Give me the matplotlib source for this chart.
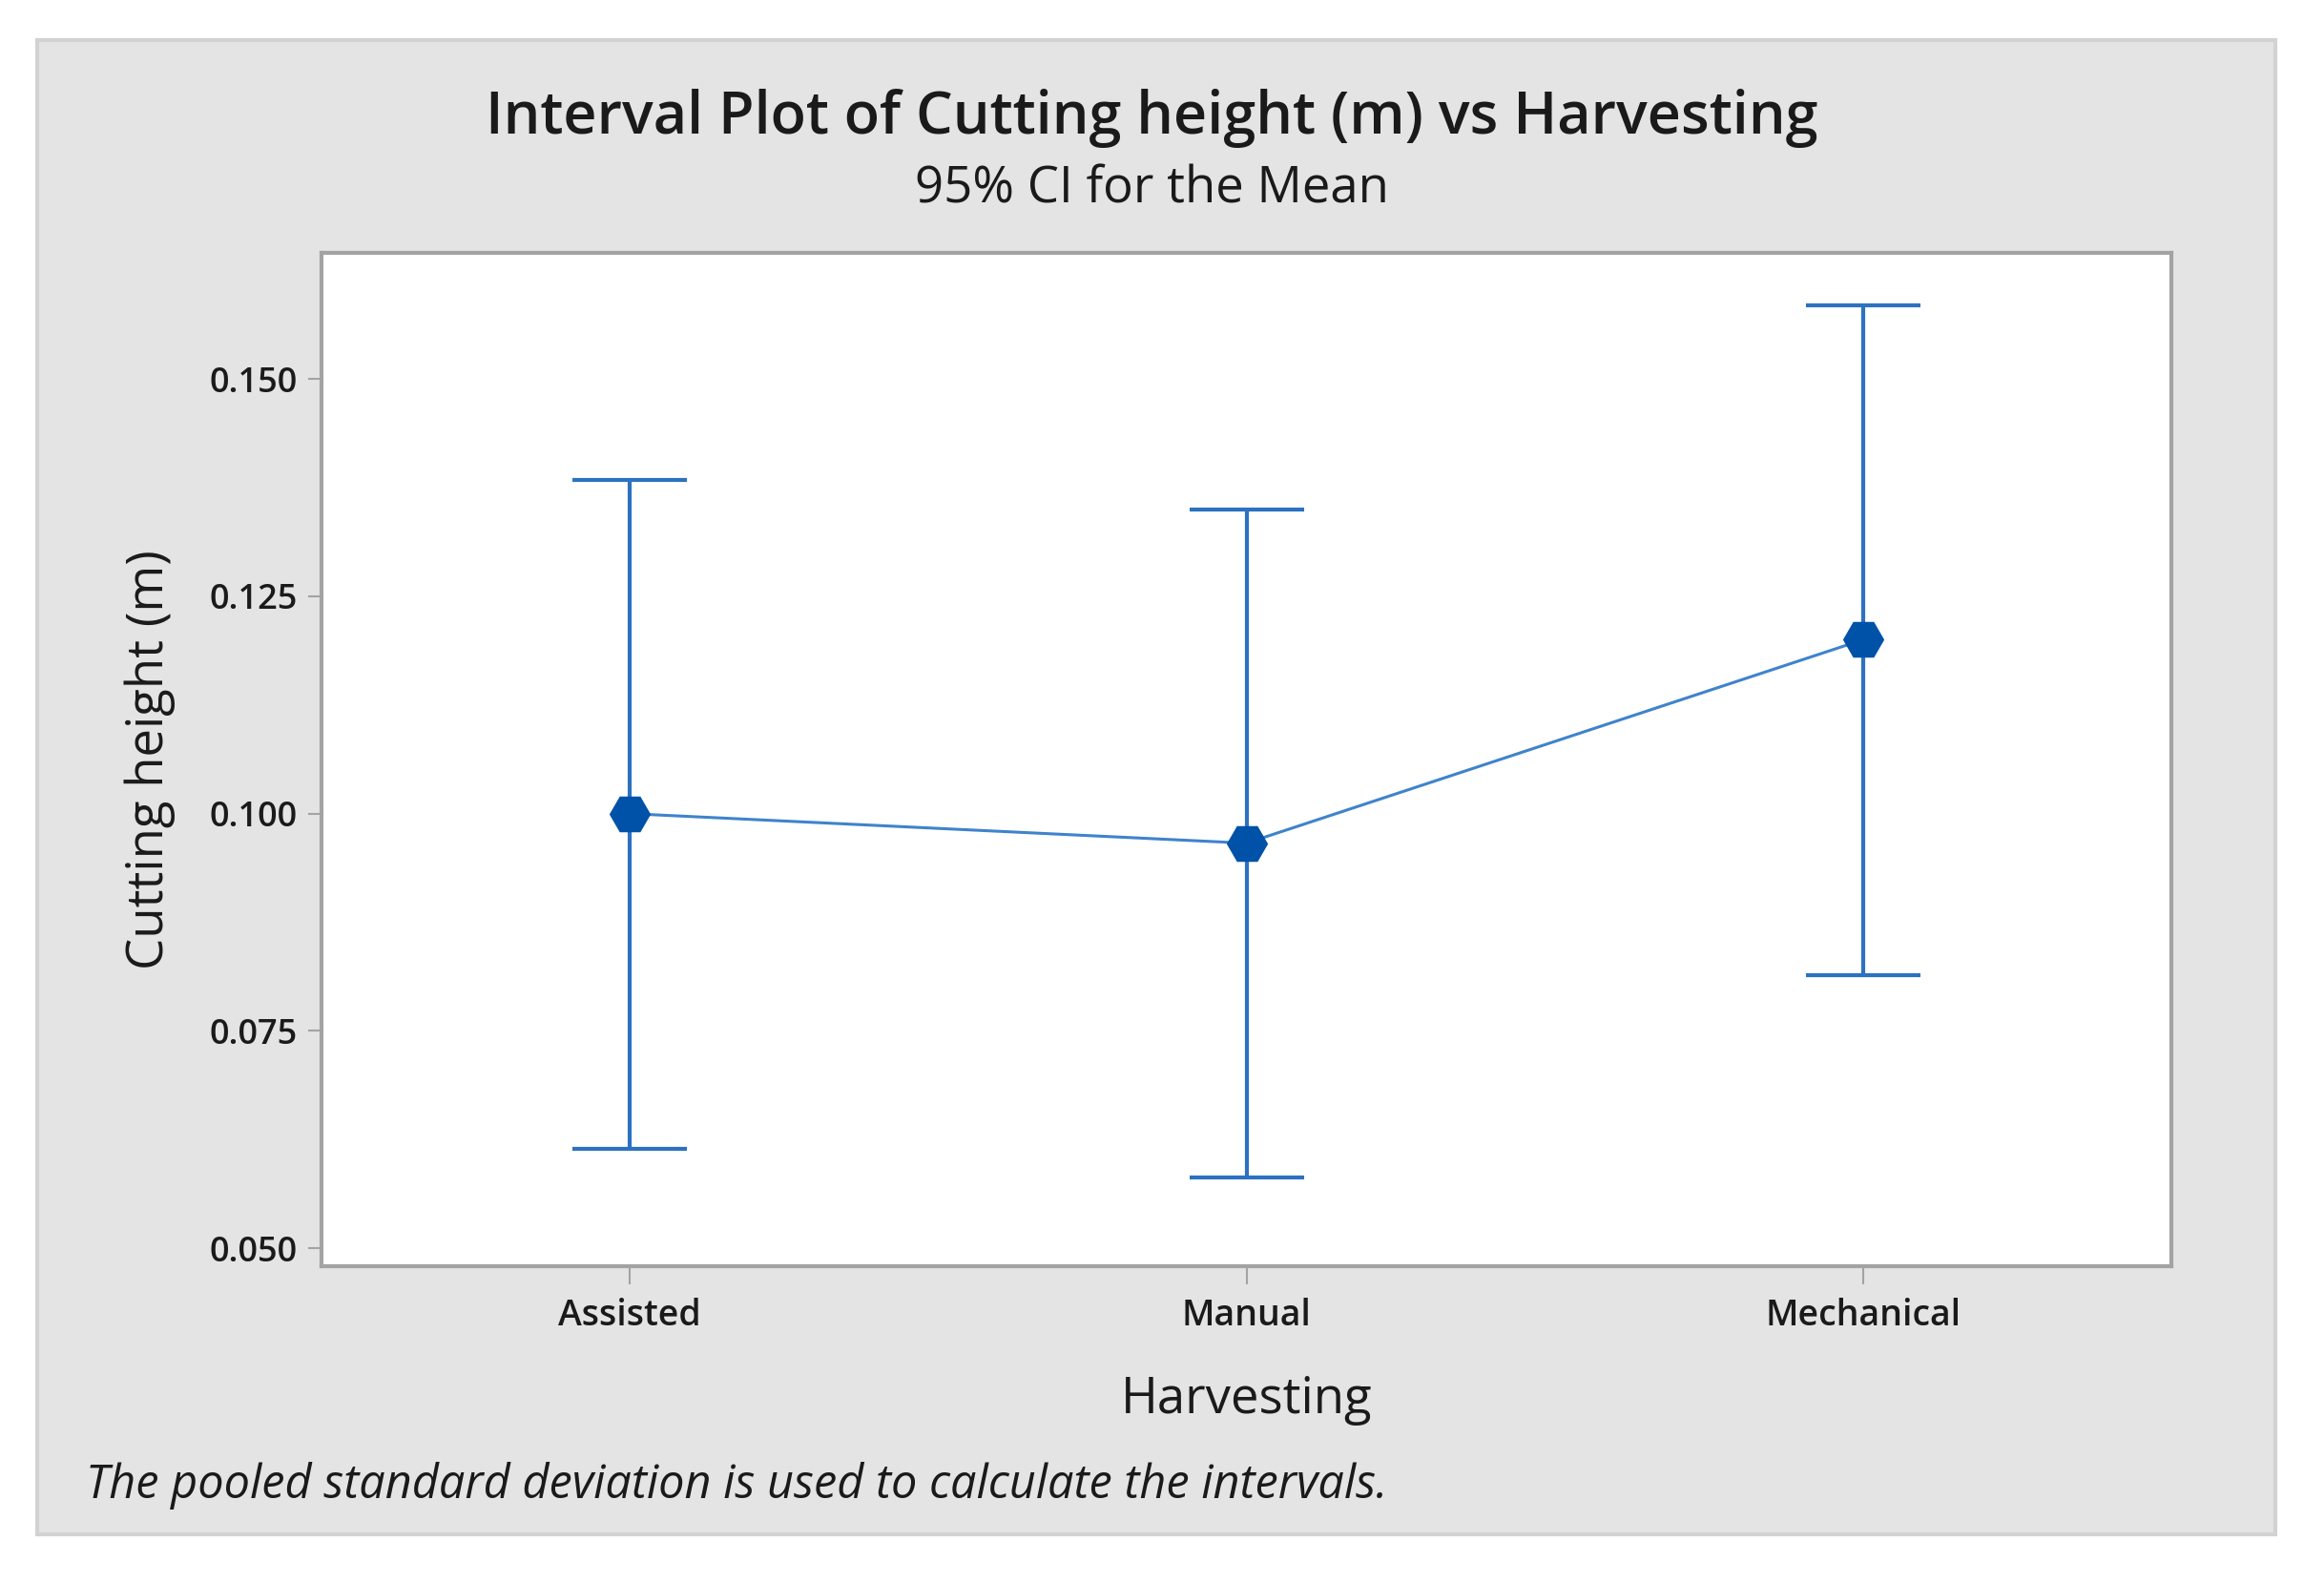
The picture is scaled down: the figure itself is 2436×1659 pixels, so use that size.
import numpy as np
import matplotlib.pyplot as plt
from matplotlib.patches import Rectangle

# values
groups = ["Assisted", "Manual", "Mechanical"]
means = [0.1000, 0.0966, 0.1200]
ci_lower = [0.0614, 0.0582, 0.0814]
ci_upper = [0.1384, 0.1350, 0.1585]
y_ticks = [0.050, 0.075, 0.100, 0.125, 0.150]

W, H = 2436, 1659
fig = plt.figure(figsize=(W / 100, H / 100), dpi=100)
fig.patch.set_facecolor("white")
plt.rcParams["font.family"] = ["Open Sans", "DejaVu Sans"]

# gray Minitab-style panel
fig.patches.append(Rectangle((39 / W, 1 - 1608 / H), 2346 / W, 1566 / H,
                             transform=fig.transFigure, facecolor="#e4e4e4",
                             edgecolor="#d2d2d2", lw=3, zorder=-5))

ax = fig.add_axes([337 / W, 1 - 1327 / H, (2276 - 337) / W, (1327 - 265) / H])
ax.set_zorder(2)
ax.set_facecolor("white")

x = np.arange(len(groups))
m = np.array(means)
err = [m - np.array(ci_lower), np.array(ci_upper) - m]

ax.plot(x, m, color="#3f83cc", lw=2.2, zorder=2)
ax.errorbar(x, m, yerr=err, fmt="none", ecolor="#2c72c0", elinewidth=3,
            capsize=43, capthick=3, zorder=3)
ax.plot(x, m, ls="none", marker="H", ms=30, color="#0052a8", zorder=4)

ax.set_xlim(-0.5, 2.5)
ax.set_ylim(0.04794, 0.1645)
ax.set_xticks(x)
ax.set_xticklabels(groups, fontweight="semibold")
ax.set_yticks(y_ticks)
ax.set_yticklabels([f"{v:.3f}" for v in y_ticks], fontweight="semibold")

for s in ax.spines.values():
    s.set_color("#a3a3a3")
    s.set_linewidth(3)

ax.tick_params(axis="x", length=14, width=1.5, color="#a3a3a3", pad=10,
               labelsize=27, labelcolor="#1a1a1a")
ax.tick_params(axis="y", length=10, width=1.5, color="#a3a3a3", pad=8,
               labelsize=26, labelcolor="#1a1a1a")

ax.set_xlabel("Harvesting", fontsize=38, fontweight="medium", color="#1a1a1a", labelpad=30)
ax.set_ylabel("Cutting height (m)", fontsize=38, fontweight="medium", color="#1a1a1a",
              labelpad=26)

fig.text(1207 / W, 1 - 124 / H, "Interval Plot of Cutting height (m) vs Harvesting",
         ha="center", va="center", fontsize=44, fontweight="semibold", color="#1a1a1a")
fig.text(1207 / W, 1 - 199 / H, "95% CI for the Mean",
         ha="center", va="center", fontsize=38, fontweight="medium", color="#1a1a1a")
fig.text(90 / W, 1 - 1557 / H,
         "The pooled standard deviation is used to calculate the intervals.",
         ha="left", va="center", fontsize=35, style="italic", color="#1a1a1a")

fig.savefig("out.png", dpi=100)
